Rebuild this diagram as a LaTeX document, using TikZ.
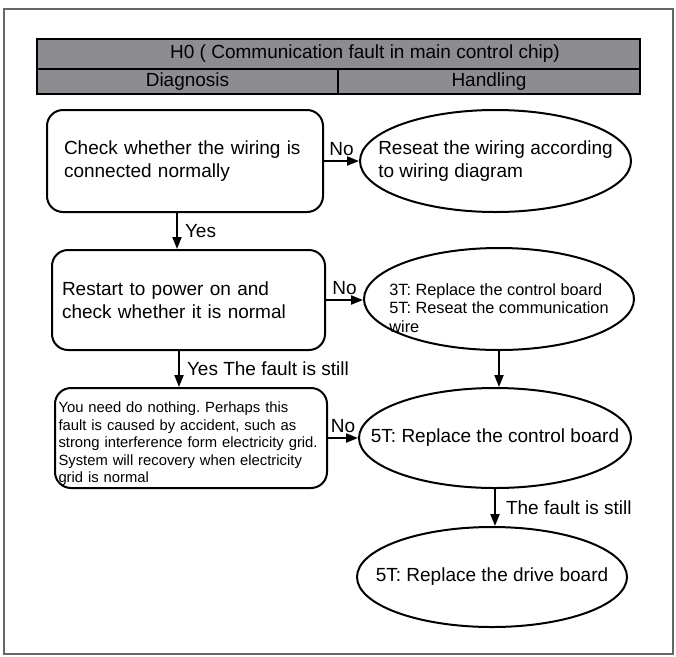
\documentclass[tikz,border=0pt]{standalone}
\usepackage{fontspec}
\setmainfont{Liberation Sans}
\usepackage{tikz}
\usetikzlibrary{arrows.meta}
\usetikzlibrary{calc}
\usetikzlibrary{shapes.geometric}
\definecolor{headgray}{RGB}{141,140,145}
\frenchspacing

\begin{document}
\begin{tikzpicture}[x=1pt,y=-1pt,
    big/.style={font=\fontsize{19}{23}\selectfont},
    cell/.style={draw, line width=1.8pt, fill=headgray, inner sep=0pt, big},
    diag/.style={draw, line width=2pt, rounded corners=16pt, inner sep=0pt, align=left, big},
    hand/.style={draw, ellipse, line width=2pt, inner xsep=-30pt, inner ysep=0pt, align=left, big},
    flow/.style={-{Triangle[length=12pt,width=9pt]}, line width=2pt},
    lbl/.style={big, inner sep=2pt}]
      \useasboundingbox (0,0) rectangle (676,656);

      % frame
      \draw[black!60, line width=1.8pt] (4,9) rectangle (673,654);

      % header
      \node[cell, minimum width=603pt, minimum height=30pt] (head) at (338.5,54) {};
      \node[big] (title) at (365,54) {H0 ( Communication fault in main control chip)};
      \node[cell, minimum width=301pt, minimum height=25pt] (diagnosis) at (187.5,81.5) {Diagnosis};
      \node[cell, minimum width=302pt, minimum height=25pt] (handling) at (489,81.5) {Handling};

      % diagnosis boxes
      \node[diag, minimum width=276pt, minimum height=102pt, text width=242pt] (b1) at (185,161)
        {Check whether the wiring is\\connected normally};
      \node[diag, minimum width=273pt, minimum height=100pt, text width=253pt] (b2) at (188.5,300)
        {Restart to power on and\\check whether it is normal};
      \node[diag, minimum width=272pt, minimum height=100pt, text width=265pt,
        font=\fontsize{14.8}{17.5}\selectfont] (b3) at (191,438)
        {\rule{0pt}{23pt}You need do nothing. Perhaps this\\fault is caused by accident, such as\\strong interference form electricity grid.\\System will recovery when electricity\\grid is normal};

      % handling ellipses
      \node[hand, minimum width=271pt, minimum height=102pt] (e1) at (495.5,161)
        {Reseat the wiring according\\to wiring diagram};
      \node[hand, minimum width=270pt, minimum height=102pt,
        font=\fontsize{16.3}{18.5}\selectfont] (e2) at (499,299)
        {\rule{0pt}{30pt}3T: Replace the control board\\5T: Reseat the communication\\wire};
      \node[hand, minimum width=272pt, minimum height=100pt] (e3) at (495,438)
        {5T: Replace the control board};
      \node[hand, minimum width=270pt, minimum height=100pt] (e4) at (492,577)
        {5T: Replace the drive board};

      % arrows
      \draw[flow] (b1) -- (e1) node[lbl, midway, above=2pt] {No};
      \draw[flow] (b2.east) -- (b2.east -| e2.west) node[lbl, midway, above=2pt] {No};
      \draw[flow] (b3) -- (e3) node[lbl, midway, above=2pt] {No};
      \draw[flow] ([xshift=-8pt]b1.south) -- ([xshift=-8pt]b1.south |- b2.north)
        node[lbl, midway, right=5pt] {Yes};
      \draw[flow] ([xshift=-9.5pt]b2.south) -- ([xshift=-9.5pt]b2.south |- b3.north)
        node[lbl, midway, right=5pt] {Yes The fault is still};
      \draw[flow] (e2.south) -- (e2.south |- e3.north);
      \draw[flow] (e3.south) -- (e3.south |- e4.north)
        node[lbl, midway, right=8pt] {The fault is still};
    \end{tikzpicture}
\end{document}
